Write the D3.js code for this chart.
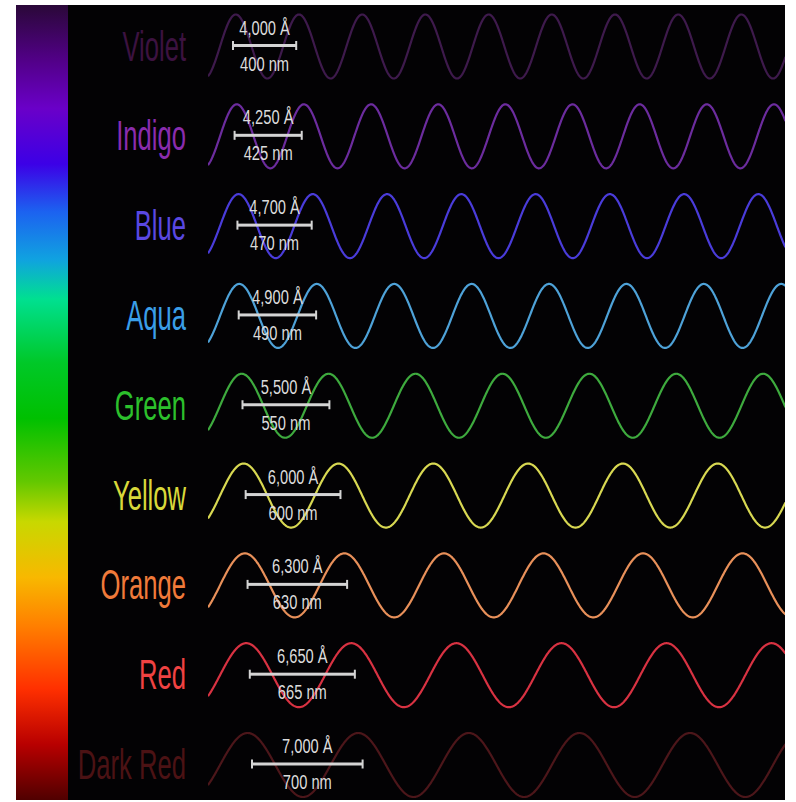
<!DOCTYPE html>
<html>
<head>
<meta charset="utf-8">
<script src="https://cdn.jsdelivr.net/npm/d3@7"></script>
<style>
  html, body { margin: 0; padding: 0; background: #fff; }
  svg { display: block; }
</style>
</head>
<body>
<script>
// visible light: colour name, wavelength in nm, label in angstrom
const names = ['Violet', 'Indigo', 'Blue', 'Aqua', 'Green', 'Yellow', 'Orange', 'Red', 'Dark Red'];
const nm = [400, 425, 470, 490, 550, 600, 630, 665, 700];
const angstrom = ['4,000 Å', '4,250 Å', '4,700 Å', '4,900 Å', '5,500 Å', '6,000 Å', '6,300 Å', '6,650 Å', '7,000 Å'];
const labelColors = ['#3c1240', '#8a2cae', '#5a48e2', '#3a9ee8', '#2cc02c', '#d8d83a', '#f07a3a', '#f04242', '#4c1214'];
const waveColors = ['#3e1a4c', '#6c2c9e', '#4a3cda', '#4ea2d8', '#3eaa3e', '#d8d852', '#e8905a', '#d83242', '#4c161a'];

// spectrum bar on the left
const gradStops = [
  [0.00, '#2a0838'], [0.07, '#520088'], [0.13, '#6a00c8'], [0.20, '#3c00e6'],
  [0.26, '#1c62f0'], [0.32, '#10a2e0'], [0.37, '#00e090'], [0.45, '#00c828'],
  [0.52, '#00c000'], [0.60, '#64c800'], [0.65, '#c8d800'], [0.72, '#f8b800'],
  [0.78, '#ff8000'], [0.86, '#ff3000'], [0.93, '#b80000'], [1.00, '#500000']
];

const W = 796, H = 802;
const svg = d3.select('body').append('svg').attr('width', W).attr('height', H);

const panel = { x0: 16, y0: 5, x1: 785, y1: 800 };
const waveX0 = 208, phaseX = 220;

// px per nm (one wavelength drawn)
const len = d3.scaleLinear().domain([0, 700]).range([0, 110.6]);
const y = d3.scalePoint().domain(names).range([46.5, 765]);
// where the measuring bar starts
const barStart = d3.scaleLinear().domain([400, 700]).range([233, 252]);

const defs = svg.append('defs');
const grad = defs.append('linearGradient').attr('id', 'spec')
    .attr('x1', 0).attr('y1', 0).attr('x2', 0).attr('y2', 1);
grad.selectAll('stop').data(gradStops).join('stop')
    .attr('offset', d => d[0]).attr('stop-color', d => d[1]);

defs.append('clipPath').attr('id', 'waveclip')
  .append('rect')
    .attr('x', waveX0).attr('y', panel.y0)
    .attr('width', panel.x1 - waveX0).attr('height', panel.y1 - panel.y0);

svg.append('rect')
    .attr('x', panel.x0).attr('y', panel.y0)
    .attr('width', panel.x1 - panel.x0).attr('height', panel.y1 - panel.y0)
    .attr('fill', '#030204');

svg.append('rect')
    .attr('x', panel.x0).attr('y', panel.y0)
    .attr('width', 52).attr('height', panel.y1 - panel.y0)
    .attr('fill', 'url(#spec)');

const rows = names.map((n, i) => ({
  name: n, nm: nm[i], ang: angstrom[i], lc: labelColors[i], wc: waveColors[i]
}));

const amp = 32;
const line = d3.line().curve(d3.curveLinear);

const row = svg.selectAll('g.row').data(rows).join('g')
    .attr('class', 'row')
    .attr('transform', d => `translate(0,${y(d.name)})`);

// waves
row.append('path')
    .attr('clip-path', 'url(#waveclip)')
    .attr('transform', d => `translate(0,${-y(d.name)})`)
    .attr('d', d => {
      const lam = len(d.nm);
      const pts = d3.range(waveX0, panel.x1 + 1, 0.5)
          .map(x => [x, y(d.name) - amp * Math.sin(2 * Math.PI * (x - phaseX) / lam)]);
      return line(pts);
    })
    .attr('fill', 'none')
    .attr('stroke', d => d.wc)
    .attr('stroke-width', 2.2);

// colour names
row.append('text')
    .attr('transform', 'translate(186,14) scale(0.61,1)')
    .attr('text-anchor', 'end')
    .attr('font-family', 'Liberation Sans, Arial, sans-serif')
    .attr('font-size', 42)
    .attr('fill', d => d.lc)
    .text(d => d.name);

// measuring bar
const bar = row.append('g')
    .attr('transform', d => `translate(${barStart(d.nm)},-1)`);
bar.append('rect')
    .attr('x', 0).attr('y', -1.5)
    .attr('width', d => len(d.nm)).attr('height', 3)
    .attr('fill', '#d4d4d4');
bar.append('rect')
    .attr('x', -1).attr('y', -4.5).attr('width', 2).attr('height', 9)
    .attr('fill', '#d4d4d4');
bar.append('rect')
    .attr('x', d => len(d.nm) - 1).attr('y', -4.5).attr('width', 2).attr('height', 9)
    .attr('fill', '#d4d4d4');

bar.append('text')
    .attr('transform', d => `translate(${len(d.nm) / 2},-11) scale(0.7,1)`)
    .attr('text-anchor', 'middle')
    .attr('font-family', 'Liberation Sans, Arial, sans-serif')
    .attr('font-size', 21)
    .attr('fill', '#dcdcdc')
    .text(d => d.ang);

bar.append('text')
    .attr('transform', d => `translate(${len(d.nm) / 2},25) scale(0.7,1)`)
    .attr('text-anchor', 'middle')
    .attr('font-family', 'Liberation Sans, Arial, sans-serif')
    .attr('font-size', 21)
    .attr('fill', '#dcdcdc')
    .text(d => d.nm + ' nm');
</script>
</body>
</html>
